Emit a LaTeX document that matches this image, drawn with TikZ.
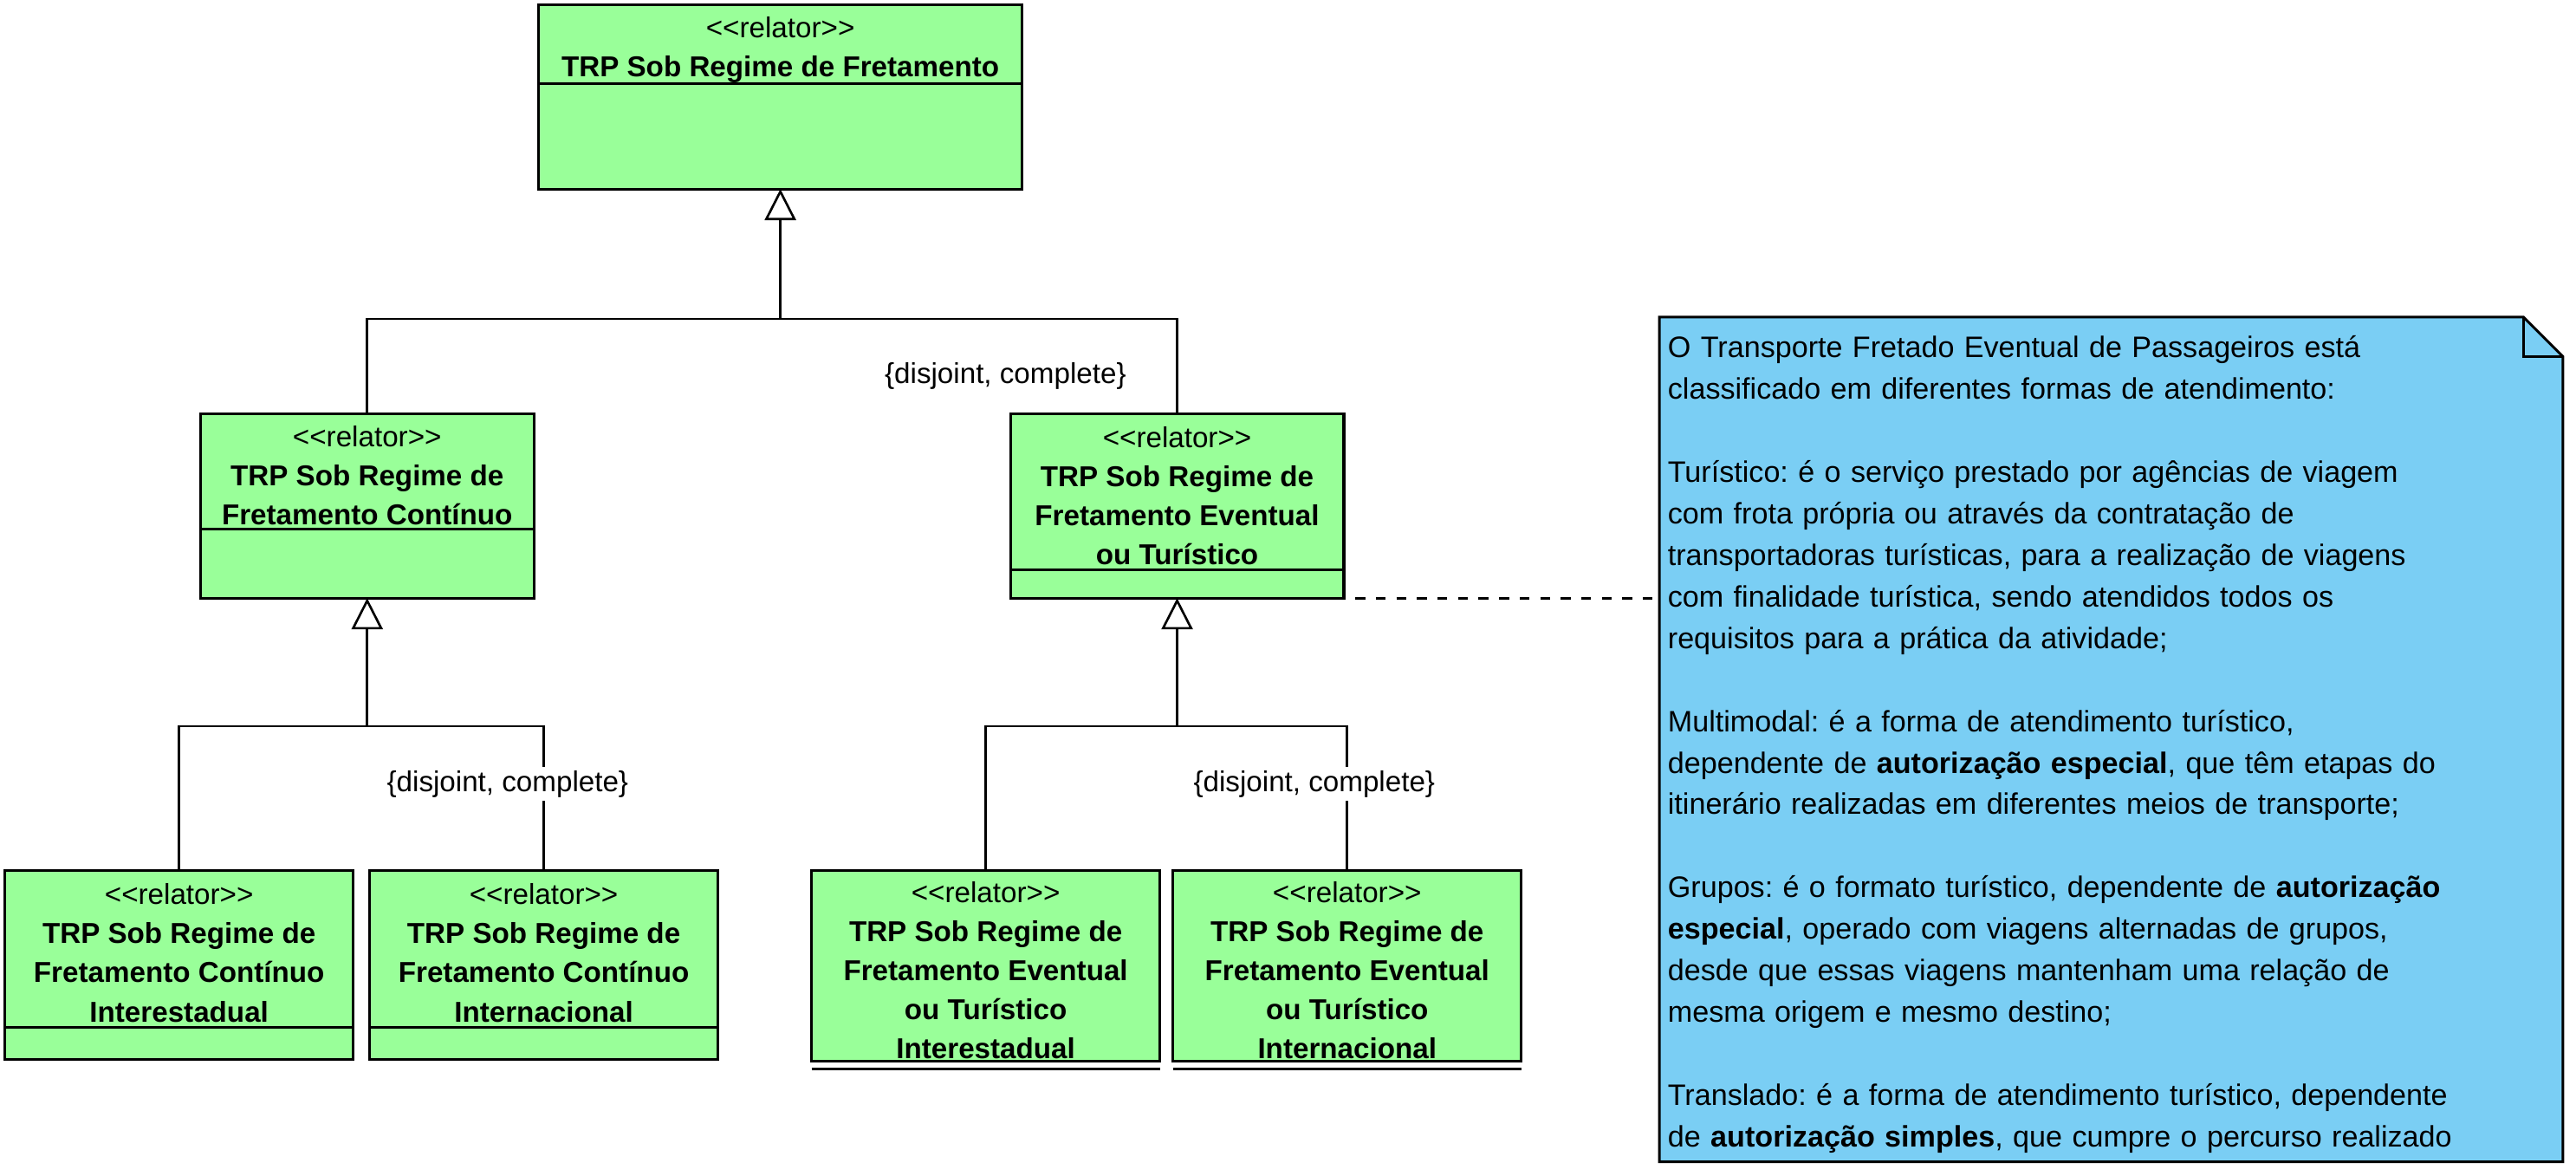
\documentclass[tikz,border=0pt]{standalone}
\usepackage{fontspec}
\newfontfamily\umlfont{Liberation Sans}
\usepackage{tikz}
\usetikzlibrary{shapes,arrows.meta,positioning}
\definecolor{classgreen}{RGB}{153,255,153}
\definecolor{noteblue}{RGB}{122,206,244}
\tikzstyle{classname} = [rectangle,draw=black,line width=1.6pt,fill=classgreen,inner sep=0pt,outer sep=0pt,align=center,font=\umlfont\fontsize{17.5}{23.8}\selectfont]
\tikzstyle{classattr} = [rectangle,draw=black,line width=1.6pt,fill=classgreen,inner sep=0pt,outer sep=0pt]
\tikzstyle{line} = [color=black,line width=1.4pt]
\tikzstyle{gen} = [line,-{Triangle[open,length=19pt,width=19pt]}]
\tikzstyle{gset} = [fill=white,inner xsep=1pt,inner ysep=2pt,font=\umlfont\fontsize{17.5}{21}\selectfont]
\tikzstyle{notebox} = [rectangle,fill=noteblue,inner sep=0pt,outer sep=0pt,minimum width=550pt,minimum height=514pt]
\tikzstyle{notetext} = [inner sep=0pt,text width=540pt,align=left,font=\umlfont\fontsize{18}{25.3}\selectfont]
\newcommand{\stereo}{\rule{0pt}{17.5pt}<<relator>>}

\begin{document}
\frenchspacing
\begin{tikzpicture}[x=1pt,y=-1pt]
	\useasboundingbox (0,0) rectangle (1568,715.2);

	%RTP0
	\node (S0) [classname,minimum width=294pt,minimum height=48pt,anchor=north] at (475,3) {\rule{0pt}{19pt}<<relator>>\\ \textbf{TRP Sob Regime de Fretamento}};
	\node (S0a) [classattr,minimum width=294pt,minimum height=64pt,below=0pt of S0] {};

	%RTP1
	\node (S11) [classname,minimum width=203pt,minimum height=70pt,anchor=north] at (223.5,252) {\stereo\\ \textbf{TRP Sob Regime de}\\ \textbf{Fretamento Contínuo}};
	\node (S11a) [classattr,minimum width=203pt,minimum height=42pt,below=0pt of S11] {};
	\node (S12) [classname,minimum width=203pt,minimum height=95pt,anchor=north] at (716.5,252) {\stereo\\ \textbf{TRP Sob Regime de}\\ \textbf{Fretamento Eventual}\\ \textbf{ou Turístico}};
	\node (S12a) [classattr,minimum width=203pt,minimum height=17pt,below=0pt of S12] {};

	%RTP2
	\node (S21) [classname,minimum width=212pt,minimum height=95pt,anchor=north] at (109,530) {\stereo\\ \textbf{TRP Sob Regime de}\\ \textbf{Fretamento Contínuo}\\ \textbf{Interestadual}};
	\node (S21a) [classattr,minimum width=212pt,minimum height=20pt,below=0pt of S21] {};
	\node (S22) [classname,minimum width=212pt,minimum height=95pt,anchor=north] at (331,530) {\stereo\\ \textbf{TRP Sob Regime de}\\ \textbf{Fretamento Contínuo}\\ \textbf{Internacional}};
	\node (S22a) [classattr,minimum width=212pt,minimum height=20pt,below=0pt of S22] {};
	\node (S23) [classname,minimum width=212pt,minimum height=116pt,anchor=north] at (600,530) {\stereo\\ \textbf{TRP Sob Regime de}\\ \textbf{Fretamento Eventual}\\ \textbf{ou Turístico}\\ \textbf{Interestadual}};
	\node (S23a) [classattr,draw=none,fill=none,minimum width=212pt,minimum height=4.5pt,below=0pt of S23] {};
	\draw [line,line width=1.6pt] (S23a.south west) -- (S23a.south east);
	\node (S24) [classname,minimum width=212pt,minimum height=116pt,anchor=north] at (820,530) {\stereo\\ \textbf{TRP Sob Regime de}\\ \textbf{Fretamento Eventual}\\ \textbf{ou Turístico}\\ \textbf{Internacional}};
	\node (S24a) [classattr,draw=none,fill=none,minimum width=212pt,minimum height=4.5pt,below=0pt of S24] {};
	\draw [line,line width=1.6pt] (S24a.south west) -- (S24a.south east);

	%generalizations
	\coordinate (J0) at (475,194);
	\draw [gen] (J0) -- (S0a);
	\draw [line] (S11.north) |- (J0) -| (S12.north);
	\coordinate (J1) at (223.5,442);
	\draw [gen] (J1) -- (S11a);
	\draw [line] (S21.north) |- (J1) -| (S22.north);
	\coordinate (J2) at (716.5,442);
	\draw [gen] (J2) -- (S12a);
	\draw [line] (S23.north) |- (J2) -| (S24.north);

	\node (G0) [gset] at (612,229) {\{disjoint, complete\}};
	\node (G1) [gset] at (309,477) {\{disjoint, complete\}};
	\node (G2) [gset] at (800,477) {\{disjoint, complete\}};

	%note
	\node (NB) [notebox,anchor=north west] at (1010,193) {};
	\node (NT) [notetext,anchor=north west] at (1015,204) {O Transporte Fretado Eventual de Passageiros está\\
		classificado em diferentes formas de atendimento:\\ \mbox{}\\
		Turístico: é o serviço prestado por agências de viagem\\
		com frota própria ou através da contratação de\\
		transportadoras turísticas, para a realização de viagens\\
		com finalidade turística, sendo atendidos todos os\\
		requisitos para a prática da atividade;\\ \mbox{}\\
		Multimodal: é a forma de atendimento turístico,\\
		dependente de \textbf{autorização especial}, que têm etapas do\\
		itinerário realizadas em diferentes meios de transporte;\\ \mbox{}\\
		Grupos: é o formato turístico, dependente de \textbf{autorização}\\
		\textbf{especial}, operado com viagens alternadas de grupos,\\
		desde que essas viagens mantenham uma relação de\\
		mesma origem e mesmo destino;\\ \mbox{}\\
		Translado: é a forma de atendimento turístico, dependente\\
		de \textbf{autorização simples}, que cumpre o percurso realizado};
	\fill [white] ([xshift=-24pt]NB.north east) -- (NB.north east) -- ([yshift=-24pt]NB.north east) -- cycle;
	\draw [line,line width=1.6pt] (NB.north west) -- ([xshift=-24pt]NB.north east) -- ([yshift=-24pt]NB.north east) -- (NB.south east) -- (NB.south west) -- cycle;
	\draw [line,line width=1.6pt] ([xshift=-24pt]NB.north east) |- ([yshift=-24pt]NB.north east);
	\draw [line,dash pattern=on 6pt off 6.5pt] ([xshift=7pt]S12a.south east) -- (S12a.south east -| NB.west);
\end{tikzpicture}
\end{document}
